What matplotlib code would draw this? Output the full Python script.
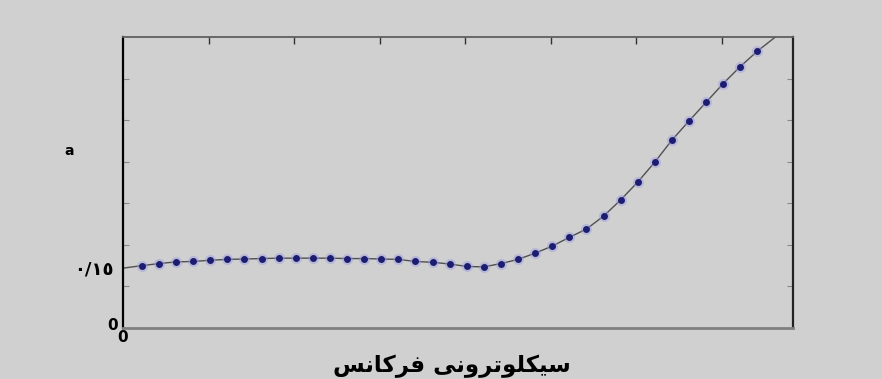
"""
Cyclotron frequency curve (a vs. frequency), recreated from a scanned figure.
"""

import matplotlib
matplotlib.use("Agg")
import matplotlib.pyplot as plt

# marker positions (x in tick units, y in axis units)
freq = [0.22, 0.42, 0.62, 0.82, 1.02, 1.22, 1.42, 1.62, 1.82, 2.02,
        2.22, 2.42, 2.62, 2.82, 3.02, 3.22, 3.42, 3.62, 3.82, 4.02,
        4.22, 4.42, 4.62, 4.82, 5.02, 5.22, 5.42, 5.62, 5.82, 6.02,
        6.22, 6.42, 6.62, 6.82, 7.02, 7.22, 7.42]
a_vals = [0.150, 0.155, 0.159, 0.160, 0.163, 0.165, 0.166, 0.167, 0.168, 0.168,
          0.168, 0.168, 0.167, 0.167, 0.166, 0.165, 0.160, 0.158, 0.154, 0.148,
          0.147, 0.155, 0.165, 0.180, 0.197, 0.218, 0.238, 0.269, 0.308, 0.351,
          0.399, 0.452, 0.498, 0.543, 0.588, 0.629, 0.666]

# the solid curve runs from the left axis to past the top of the frame
line_start = (0.0, 0.144)
line_end = (7.63, 0.700)

x_ticks = [1, 2, 3, 4, 5, 6, 7]
y_ticks = [0.1, 0.2, 0.3, 0.4, 0.5, 0.6]

# "cyclotron frequency" in presentation forms; words sit left to right as in the scan
word_freq = "\uFEB2\uFEE7\uFE8E\uFEDB\uFEAE\uFED3"
word_cyc = "\uFEF0\uFEE7\uFEED\uFEAE\uFE97\uFEEE\uFEE0\uFEDC\uFEF4\uFEB3"
xlabel = word_freq + " " + word_cyc
label_015 = "\u0660/\u0661\u0665"

BG = "#d0d0d0"

fig = plt.figure(figsize=(8.82, 3.79), dpi=100, facecolor=BG)
ax = fig.add_axes([123 / 882, 51 / 379, 670 / 882, 291 / 379], facecolor=BG)

line_x = [line_start[0]] + freq + [line_end[0]]
line_y = [line_start[1]] + a_vals + [line_end[1]]
ax.plot(line_x, line_y, color="#505050", lw=1.0, zorder=2)
ax.plot(freq, a_vals, "o", ms=8, color="#9a9ae0", alpha=0.45, mec="none", zorder=3)
ax.plot(freq, a_vals, "o", ms=5, color="#1c1c70", mec="none", zorder=4)

ax.set_xlim(0, 670 / 85.5)
ax.set_ylim(0, 0.7)

ax.set_xticks(x_ticks)
ax.set_yticks(y_ticks)
ax.tick_params(axis="x", which="both", direction="in", top=True, bottom=False,
               labelbottom=False, length=5, width=1, color="#333333")
ax.tick_params(axis="y", which="both", direction="in", left=True, right=True,
               labelleft=False, length=4, width=0.8, color="#888888")

for side, col, lw in [("left", "black", 1.6), ("right", "#222222", 1.6),
                      ("top", "#606060", 1.3), ("bottom", "#808080", 2.0)]:
    ax.spines[side].set_color(col)
    ax.spines[side].set_linewidth(lw)

fig.text(452 / 882, 1 - 366 / 379, xlabel, ha="center", va="center",
         fontsize=16.5, fontweight="bold", family="DejaVu Sans")
fig.text(94 / 882, 1 - 270 / 379, label_015, ha="center", va="center",
         fontsize=13, fontweight="bold", family="DejaVu Sans")
fig.text(69 / 882, 1 - 151 / 379, "a", ha="center", va="center",
         fontsize=10, fontweight="bold")
fig.text(113 / 882, 1 - 326 / 379, "0", ha="center", va="center",
         fontsize=11, fontweight="heavy")
fig.text(123 / 882, 1 - 338 / 379, "0", ha="center", va="center",
         fontsize=11, fontweight="heavy")

fig.savefig("out.png", dpi=100, facecolor=BG)
plt.close()
